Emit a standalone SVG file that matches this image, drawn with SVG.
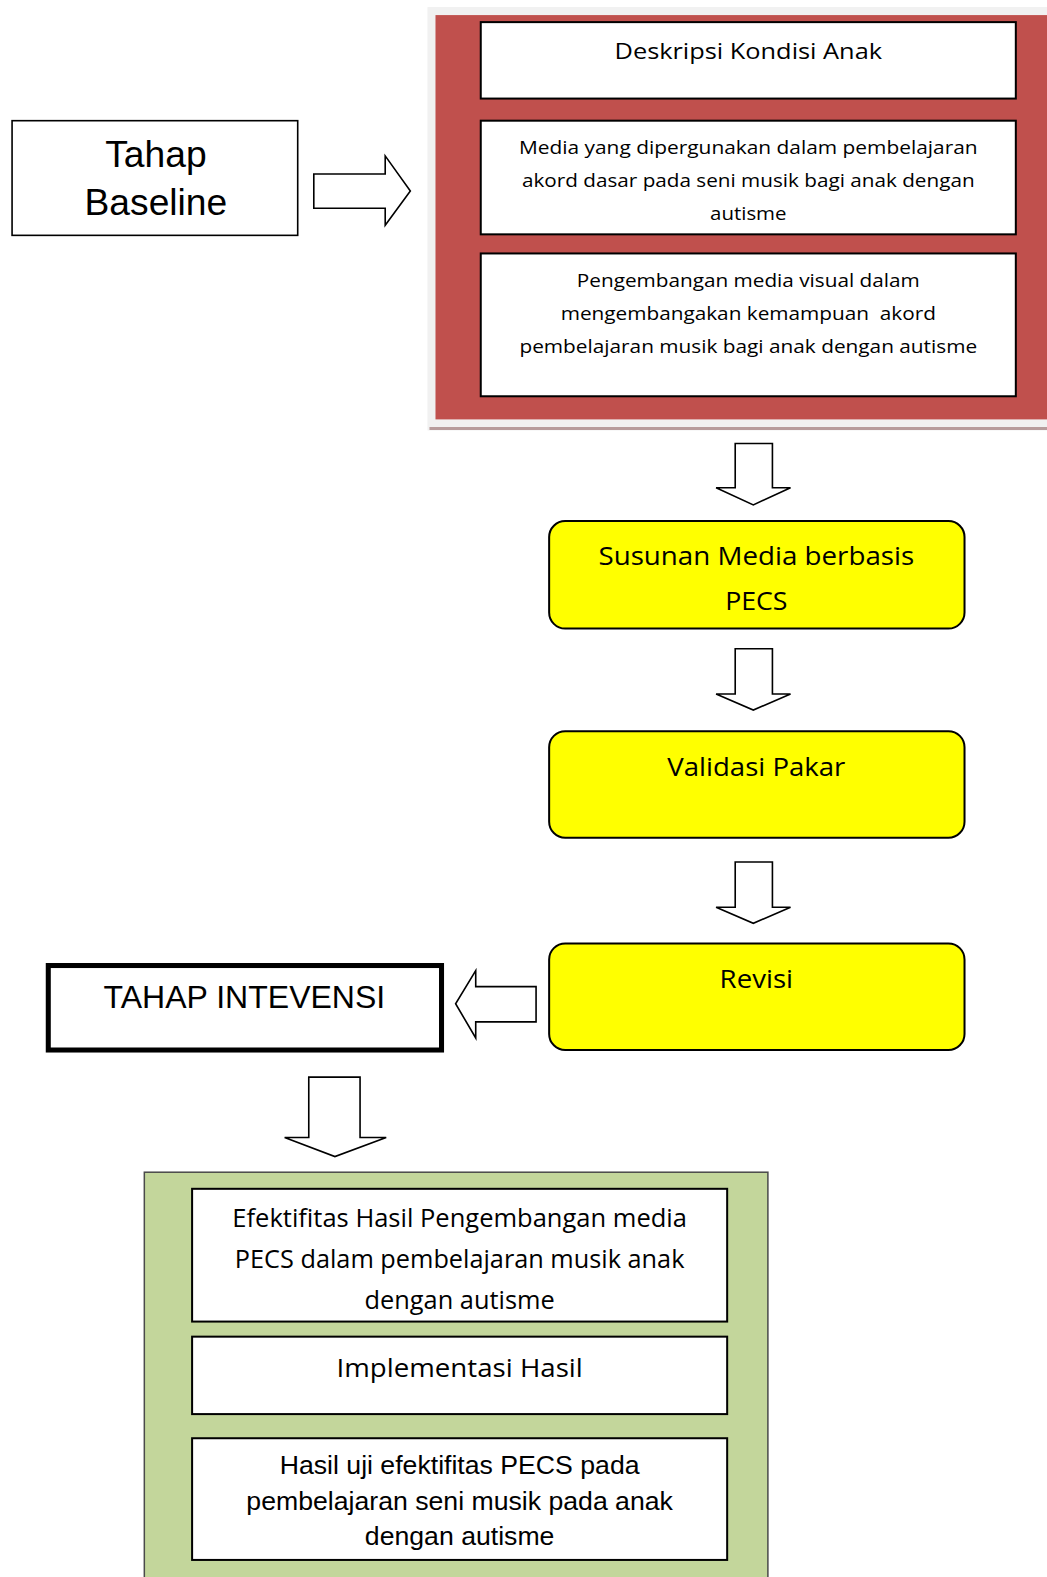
<svg xmlns="http://www.w3.org/2000/svg" width="1047" height="1577" viewBox="0 0 1047 1577">
<style>
.box{fill:#fff;stroke:#000;stroke-width:2}
.yel{fill:#ffff00;stroke:#000;stroke-width:2}
.arr{fill:#fff;stroke:#000;stroke-width:1.6;stroke-linejoin:miter}
.cal{font-family:"Open Sans","Noto Sans",sans-serif;fill:#000;text-anchor:middle}
.ari{font-family:"Liberation Sans",Arial,sans-serif;fill:#000;text-anchor:middle}
</style>
<rect x="0" y="0" width="1047" height="1577" fill="#fff"/>
<g transform="scale(1.00576)">
<g id="baseline-panel">
<rect x="425" y="7" width="622" height="421" fill="#f1f1f1"/>
<rect x="433" y="15" width="614" height="402" fill="#c0504d"/>
<line x1="427" y1="426" x2="1047" y2="426" stroke="#b79c9c" stroke-width="3"/>
</g>
<g id="deskripsi">
<rect class="box" x="478" y="22" width="532" height="76"/>
<text class="cal" x="744" y="59" font-size="22" textLength="266" lengthAdjust="spacingAndGlyphs">Deskripsi Kondisi Anak</text>
</g>
<g id="media">
<rect class="box" x="478" y="120" width="532" height="113"/>
<text class="cal" font-size="18" x="744" y="153" textLength="456" lengthAdjust="spacingAndGlyphs">Media yang dipergunakan dalam pembelajaran</text>
<text class="cal" font-size="18" x="744" y="186" textLength="450" lengthAdjust="spacingAndGlyphs">akord dasar pada seni musik bagi anak dengan</text>
<text class="cal" font-size="18" x="744" y="219" textLength="76" lengthAdjust="spacingAndGlyphs">autisme</text>
</g>
<g id="pengembangan">
<rect class="box" x="478" y="252" width="532" height="142"/>
<text class="cal" font-size="18" x="744" y="285" textLength="341" lengthAdjust="spacingAndGlyphs">Pengembangan media visual dalam</text>
<text class="cal" font-size="18" x="744" y="318" textLength="373" lengthAdjust="spacingAndGlyphs" style="white-space:pre" xml:space="preserve">mengembangakan kemampuan  akord</text>
<text class="cal" font-size="18" x="744" y="351" textLength="455" lengthAdjust="spacingAndGlyphs">pembelajaran musik bagi anak dengan autisme</text>
</g>
<g id="tahap-baseline">
<rect x="12" y="120" width="284" height="114" fill="#fff" stroke="#000" stroke-width="1.6"/>
<text class="ari" x="155" y="166" font-size="37">Tahap</text>
<text class="ari" x="155" y="214" font-size="37">Baseline</text>
</g>
<g id="susunan">
<rect class="yel" x="546" y="518" width="413" height="107" rx="16"/>
<text class="cal" font-size="25.5" x="752" y="562" textLength="314" lengthAdjust="spacingAndGlyphs">Susunan Media berbasis</text>
<text class="cal" font-size="25.5" x="752" y="607" textLength="62" lengthAdjust="spacingAndGlyphs">PECS</text>
</g>
<g id="validasi">
<rect class="yel" x="546" y="727" width="413" height="106" rx="16"/>
<text class="cal" font-size="25.5" x="752" y="772" textLength="177" lengthAdjust="spacingAndGlyphs">Validasi Pakar</text>
</g>
<g id="revisi">
<rect class="yel" x="546" y="938" width="413" height="106" rx="16"/>
<text class="cal" font-size="25.5" x="752" y="982" textLength="73" lengthAdjust="spacingAndGlyphs">Revisi</text>
</g>
<g id="tahap-intevensi">
<rect x="48" y="960" width="391" height="84" fill="#fff" stroke="#000" stroke-width="5"/>
<text class="ari" x="243" y="1002" font-size="31" textLength="280" lengthAdjust="spacingAndGlyphs">TAHAP INTEVENSI</text>
</g>
<g id="hasil-panel">
<rect x="143.5" y="1165.5" width="620" height="420" fill="#c3d69b" stroke="#4a4a4a" stroke-width="1.5"/>
</g>
<g id="efektifitas">
<rect class="box" x="191" y="1182" width="532" height="132"/>
<text class="cal" font-size="24.5" x="457" y="1220" textLength="452" lengthAdjust="spacingAndGlyphs">Efektifitas Hasil Pengembangan media</text>
<text class="cal" font-size="24.5" x="457" y="1261" textLength="447" lengthAdjust="spacingAndGlyphs">PECS dalam pembelajaran musik anak</text>
<text class="cal" font-size="24.5" x="457" y="1302" textLength="189" lengthAdjust="spacingAndGlyphs">dengan autisme</text>
</g>
<g id="implementasi">
<rect class="box" x="191" y="1329" width="532" height="77"/>
<text class="cal" font-size="24.5" x="457" y="1369" textLength="245" lengthAdjust="spacingAndGlyphs">Implementasi Hasil</text>
</g>
<g id="hasil-uji">
<rect class="box" x="191" y="1430" width="532" height="121"/>
<text class="ari" font-size="26.5" x="457" y="1466">Hasil uji efektifitas PECS pada</text>
<text class="ari" font-size="26.5" x="457" y="1501">pembelajaran seni musik pada anak</text>
<text class="ari" font-size="26.5" x="457" y="1536">dengan autisme</text>
</g>
<g id="connectors">
<polygon class="arr" points="312,173 383,173 383,155 408,190 383,224 383,207 312,207"/>
<polygon class="arr" points="731,441 768,441 768,485 786,485 749,502 712,485 731,485"/>
<polygon class="arr" points="731,645 768,645 768,690 786,690 749,706 712,690 731,690"/>
<polygon class="arr" points="731,857 768,857 768,902 786,902 749,918 712,902 731,902"/>
<polygon class="arr" points="533,981 473,981 473,965 453,998 473,1032 473,1016 533,1016"/>
<polygon class="arr" points="307,1071 358,1071 358,1131 384,1131 333,1150 283,1131 307,1131"/>
</g>
</g>
</svg>
